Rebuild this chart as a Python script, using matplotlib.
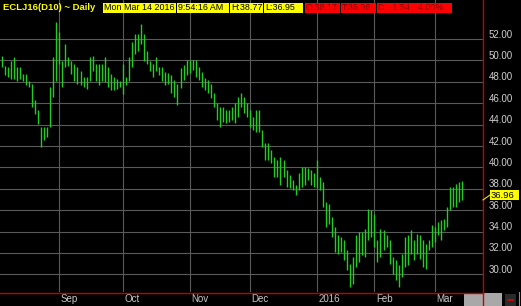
import matplotlib
matplotlib.use("Agg")
import matplotlib.pyplot as plt
import matplotlib.transforms as mtransforms
from matplotlib.patches import Rectangle
from matplotlib.lines import Line2D
import pandas as pd

plt.rcParams['font.family'] = ['Liberation Sans', 'DejaVu Sans']

# trading days shown on the chart (US exchange holidays left out)
holidays = ["2015-09-07", "2015-11-26", "2015-12-25", "2016-01-01", "2016-01-18", "2016-02-15"]
dates = pd.bdate_range("2015-08-04", "2016-03-14", freq="C", holidays=holidays)

highs = [50.20, 50.45, 49.52, 49.36, 49.98, 50.29, 49.36, 49.36, 48.74, 48.74,
         48.12, 47.81, 46.26, 45.33, 43.78, 43.78, 43.78, 47.50, 50.29, 53.55,
         52.62, 49.98, 51.53, 50.29, 49.98, 49.67, 49.36, 49.05, 48.43, 48.43,
         50.29, 50.45, 49.67, 49.67, 49.67, 50.29, 49.36, 48.74, 48.43, 48.28,
         48.12, 49.67, 48.43, 50.29, 51.69, 52.47, 52.47, 53.40, 52.47, 50.91,
         49.98, 49.67, 50.29, 49.36, 49.36, 48.93, 48.78, 48.62, 48.16, 47.84,
         49.25, 49.56, 50.02, 50.02, 50.02, 50.02, 49.40, 48.93, 48.31, 48.16,
         47.84, 46.91, 45.98, 45.66, 45.66, 45.35, 45.35, 45.66, 45.98, 46.60,
         46.91, 46.60, 45.98, 45.35, 44.73, 45.35, 45.35, 43.48, 42.24, 42.24,
         41.61, 40.99, 40.68, 40.99, 40.68, 39.74, 39.28, 38.81, 38.34, 39.43,
         40.06, 40.06, 39.90, 39.74, 39.43, 40.68, 39.10, 38.63, 36.76, 36.60,
         35.36, 34.42, 33.64, 33.49, 33.18, 32.24, 30.99, 31.62, 33.64, 33.96,
         33.96, 34.27, 36.14, 35.98, 35.67, 33.18, 34.27, 34.11, 33.64, 33.18,
         31.62, 31.31, 30.84, 31.93, 33.49, 33.64, 34.11, 33.18, 33.80, 33.64,
         33.18, 32.87, 33.18, 34.58, 34.42, 34.89, 35.05, 35.20, 36.29, 38.16,
         38.16, 38.47, 38.63, 38.77]

lows = [49.30, 49.36, 48.59, 48.43, 48.28, 48.28, 48.12, 48.28, 48.12, 47.66,
        47.50, 45.64, 45.02, 44.09, 41.92, 42.54, 42.85, 43.78, 46.57, 48.12,
        49.67, 47.50, 49.36, 49.52, 48.74, 48.12, 47.81, 47.66, 47.50, 47.35,
        48.12, 49.05, 48.12, 47.66, 48.12, 47.97, 47.50, 47.19, 47.19, 47.35,
        47.50, 46.88, 47.66, 48.12, 49.36, 50.60, 50.91, 51.53, 49.98, 49.67,
        49.05, 48.43, 49.05, 48.59, 48.12, 47.69, 47.84, 46.91, 46.60, 45.82,
        47.38, 48.16, 48.62, 48.78, 49.09, 48.47, 48.16, 47.53, 47.22, 46.91,
        46.44, 45.66, 44.42, 43.79, 44.26, 44.11, 44.26, 44.42, 44.11, 44.73,
        45.66, 45.04, 44.73, 43.79, 43.48, 43.33, 43.33, 41.93, 40.68, 40.68,
        40.37, 39.12, 39.12, 38.34, 39.12, 38.19, 38.03, 37.88, 37.41, 37.88,
        38.19, 38.34, 38.81, 38.34, 38.19, 38.03, 37.90, 36.29, 34.42, 34.74,
        33.49, 32.09, 31.93, 32.09, 31.31, 30.37, 28.82, 29.13, 30.69, 31.15,
        31.78, 31.62, 33.18, 33.49, 32.55, 31.15, 31.62, 32.24, 32.55, 31.00,
        30.06, 29.44, 28.82, 29.75, 30.69, 30.84, 31.93, 31.31, 31.93, 31.46,
        30.69, 30.53, 32.24, 32.55, 33.02, 33.64, 33.18, 34.11, 34.42, 35.98,
        36.29, 36.29, 36.76, 36.95]

price_ticks = [30, 32, 34, 36, 38, 40, 42, 44, 46, 48, 50, 52]
last_price = 36.96
title = "ECLJ16(D10) ~ Daily"
yellow_fields = ["Mon Mar 14 2016", "9:54:16 AM", "H:38.77", "L:36.95"]
red_fields = ["O:38.17", "T:36.96", "D  -1.54  -4.00%"]

W, H = 521, 306
fig = plt.figure(figsize=(W / 100, H / 100), dpi=100, facecolor="black")


def fx(p):
    return p / W


def fy(p):
    return 1 - p / H


ax = fig.add_axes([0, 14 / H, 483 / W, 292 / H])
ax.set_facecolor("black")
for s in ax.spines.values():
    s.set_visible(False)
ax.set_xticks([])
ax.set_yticks([])
ax.set_xlim(0.43, 159.83)
ax.set_ylim(28.355, 55.645)

grid_c = "#5a5a5a"
for v in price_ticks:
    ax.axhline(v, color=grid_c, lw=0.8, zorder=0)

month_idx = [i for i in range(1, len(dates)) if dates[i].month != dates[i - 1].month]
for i in month_idx:
    ax.axvline(i, color=grid_c, lw=0.8, zorder=0)

ax.vlines(range(len(dates)), lows, highs, color="#22cc22", lw=1.0, zorder=3)

# right price scale
ytrans = mtransforms.offset_copy(
    mtransforms.blended_transform_factory(fig.transFigure, ax.transData),
    fig=fig, x=0, y=4.5, units="dots")
for v in price_ticks:
    ax.text(fx(489), v, "%.2f" % v, transform=ytrans, color="#d0d0d0",
            fontsize=7, va="center", ha="left", clip_on=False)

# month labels
xtrans = mtransforms.offset_copy(
    mtransforms.blended_transform_factory(ax.transData, fig.transFigure),
    fig=fig, x=1.5, y=0, units="dots")
for i in month_idx:
    d = dates[i]
    lab = str(d.year) if d.month == 1 else d.strftime("%b")
    ax.text(i, fy(299), lab, transform=xtrans, color="#c8c8c8", fontsize=7,
            va="center", ha="left", clip_on=False)

# red frame lines
fig.add_artist(Line2D([fx(483), fx(483)], [fy(0), fy(306)], color="#c80000", lw=1))
fig.add_artist(Line2D([fx(0), fx(483)], [fy(292.5), fy(292.5)], color="#c80000", lw=1))

# header
fig.text(fx(3), fy(8), title, color="#ffff00", fontsize=6.8, fontweight="bold",
         va="center", ha="left")
spans_y = [(103, 176), (177, 229), (230, 263), (264, 303)]
spans_r = [(305, 340), (341, 376), (377, 452)]
for (x0, x1), t in zip(spans_y, yellow_fields):
    fig.add_artist(Rectangle((fx(x0), fy(13)), (x1 - x0) / W, 10 / H,
                             transform=fig.transFigure, facecolor="#ffff00", edgecolor="none"))
    fig.text(fx(x0 + 1), fy(8), t, color="black", fontsize=6.4, va="center", ha="left")
for (x0, x1), t in zip(spans_r, red_fields):
    fig.add_artist(Rectangle((fx(x0), fy(13)), (x1 - x0) / W, 10 / H,
                             transform=fig.transFigure, facecolor="#ff0000", edgecolor="none"))
    fig.text(fx(x0 + 1), fy(8), t, color="#8a0000", fontsize=6.4, va="center", ha="left")

# last price marker
yl_px = H - ax.transData.transform((0, last_price))[1]
fig.add_artist(Line2D([fx(483), fx(490)], [fy(yl_px), fy(195)], color="#e8e800", lw=0.8))
fig.add_artist(Rectangle((fx(490), fy(200)), 29 / W, 10 / H, transform=fig.transFigure,
                         facecolor="#ffff00", edgecolor="none"))
fig.text(fx(491), fy(195), "%.2f" % last_price, color="black", fontsize=6.8,
         va="center", ha="left")

# bottom-right scroll widgets
fig.add_artist(Rectangle((fx(464), fy(306)), 38 / W, 13 / H, transform=fig.transFigure,
                         facecolor="#a8a8a8", edgecolor="none"))
fig.add_artist(Rectangle((fx(505), fy(306)), 11 / W, 12 / H, transform=fig.transFigure,
                         facecolor="#2a2a2a", edgecolor="none"))
fig.add_artist(Line2D([fx(508), fx(513)], [fy(300), fy(300)], color="#e00000", lw=1.2))
fig.add_artist(Line2D([fx(519), fx(519)], [fy(292), fy(306)], color="#909090", lw=0.8))

fig.savefig("out.png", dpi=100, facecolor="black")
